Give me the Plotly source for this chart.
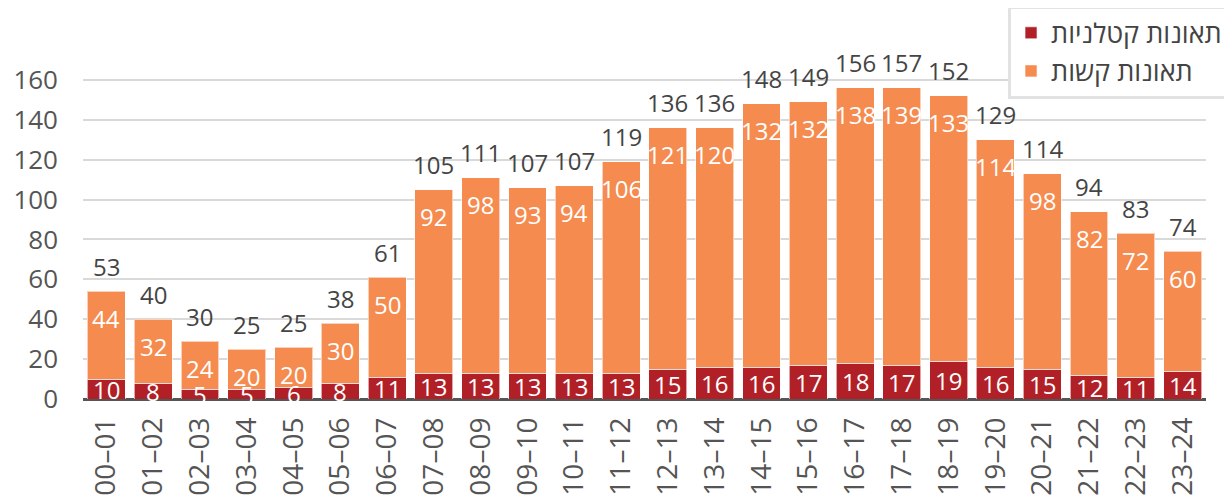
import plotly.graph_objects as go

categories = ["00–01", "01–02", "02–03", "03–04", "04–05", "05–06", "06–07", "07–08",
              "08–09", "09–10", "10–11", "11–12", "12–13", "13–14", "14–15", "15–16",
              "16–17", "17–18", "18–19", "19–20", "20–21", "21–22", "22–23", "23–24"]
fatal = [10, 8, 5, 5, 6, 8, 11, 13, 13, 13, 13, 13, 15, 16, 16, 17, 18, 17, 19, 16, 15, 12, 11, 14]
severe = [44, 32, 24, 20, 20, 30, 50, 92, 98, 93, 94, 106, 121, 120, 132, 132, 138, 139, 133, 114, 98, 82, 72, 60]
totals = [53, 40, 30, 25, 25, 38, 61, 105, 111, 107, 107, 119, 136, 136, 148, 149, 156, 157, 152, 129, 114, 94, 83, 74]
y_ticks = [0, 20, 40, 60, 80, 100, 120, 140, 160]

FONT = "Open Sans, DejaVu Sans, sans-serif"
RED = "#B22027"
ORANGE = "#F58B4F"
TXT = "#444444"

fig = go.Figure()
fig.add_trace(go.Bar(x=categories, y=fatal, name="תאונות קטלניות", marker_color=RED,
                     marker_line=dict(color="rgba(255,255,255,0.6)", width=1),
                     legendgroup="a", hoverinfo="skip"))
fig.add_trace(go.Bar(x=categories, y=severe, name="תאונות קשות", marker_color=ORANGE,
                     marker_line=dict(color="rgba(255,255,255,0.6)", width=1),
                     legendgroup="b", hoverinfo="skip"))

annotations = []
for c, f, s, t in zip(categories, fatal, severe, totals):
    annotations.append(dict(x=c, y=f / 2, text=str(f), showarrow=False,
                            font=dict(family=FONT, size=24, color="white"),
                            xanchor="center", yanchor="middle"))
    annotations.append(dict(x=c, y=f + s, text=str(s), showarrow=False,
                            font=dict(family=FONT, size=24, color="white"),
                            xanchor="center", yanchor="middle", yshift=-27))
    annotations.append(dict(x=c, y=f + s, text=str(t), showarrow=False,
                            font=dict(family=FONT, size=24, color=TXT),
                            xanchor="center", yanchor="middle", yshift=25))

fig.update_layout(
    width=1224, height=489,
    barmode="stack", bargap=0.19,
    plot_bgcolor="white", paper_bgcolor="white",
    margin=dict(l=75, r=26, t=52, b=98, autoexpand=False),
    font=dict(family=FONT, size=24, color=TXT),
    annotations=annotations,
    legend=dict(x=1.0214, y=1.16, xanchor="right", yanchor="top",
                traceorder="normal", tracegroupgap=5,
                bordercolor="#e2e2e2", borderwidth=3, bgcolor="white",
                font=dict(family=FONT, size=27, color=TXT)),
    xaxis=dict(tickangle=-90, tickfont=dict(family=FONT, size=28, color="#555555"),
               showgrid=False, showline=False, ticks="", ticklabelstandoff=12,
               automargin=False),
    yaxis=dict(range=[0, 170], tickvals=y_ticks, showgrid=True, gridcolor="#d9d9d9",
               gridwidth=2, zeroline=True, zerolinecolor="#555555", zerolinewidth=3,
               tickfont=dict(family=FONT, size=26, color="#555555"),
               ticklabelstandoff=24, automargin=False),
)

fig.write_html("out.html")
